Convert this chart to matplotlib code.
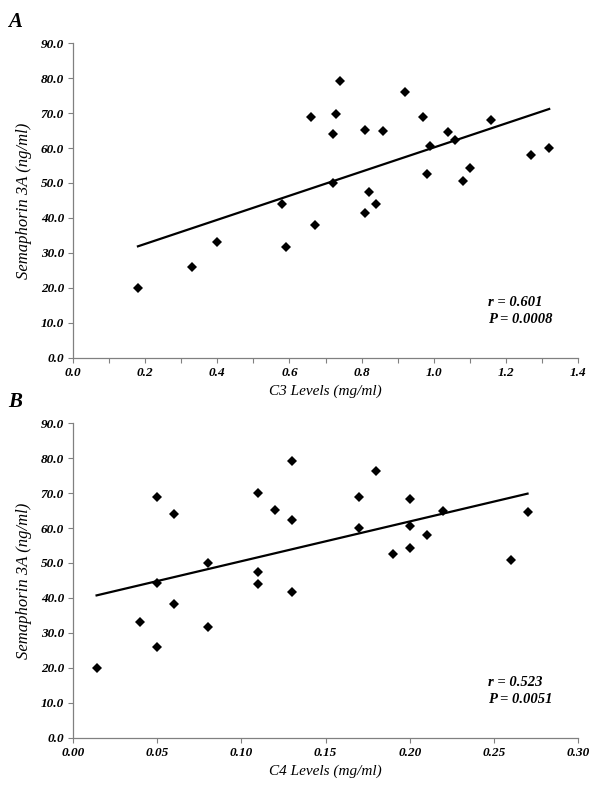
import numpy as np
import matplotlib
matplotlib.use('Agg')
import matplotlib.pyplot as plt
from matplotlib.ticker import MultipleLocator, FormatStrFormatter

# values
c3 = [0.18, 0.33, 0.40, 0.58, 0.59, 0.66, 0.67, 0.72, 0.73, 0.72, 0.74, 0.81, 0.86, 0.92,
      0.97, 0.99, 1.04, 1.06, 1.16, 0.82, 0.84, 0.81, 0.98, 1.08, 1.10, 1.27, 1.32]
sema_a = [20.0, 25.9, 33.0, 44.1, 31.6, 68.8, 38.1, 64.0, 69.8, 50.1, 79.3, 65.2, 64.9, 76.2,
          68.8, 60.7, 64.6, 62.4, 68.1, 47.3, 43.9, 41.5, 52.5, 50.6, 54.4, 57.9, 60.0]

c4 = [0.014, 0.040, 0.050, 0.050, 0.050, 0.060, 0.060, 0.080, 0.080, 0.110, 0.110, 0.110,
      0.120, 0.130, 0.130, 0.130, 0.180, 0.170, 0.170, 0.200, 0.200, 0.200, 0.190, 0.210,
      0.220, 0.270, 0.260]
sema_b = [19.9, 33.1, 26.0, 44.2, 68.9, 64.1, 38.2, 50.0, 31.7, 70.0, 47.4, 43.9, 65.2, 79.3,
          62.3, 41.6, 76.2, 68.9, 60.1, 68.2, 60.7, 54.4, 52.6, 58.0, 64.9, 64.6, 50.7]

stats_a = ["r = 0.601", "P = 0.0008"]
stats_b = ["r = 0.523", "P = 0.0051"]

plt.rcParams['font.family'] = ['Liberation Serif', 'DejaVu Serif']
grey = '#808080'

fig = plt.figure(figsize=(6, 7.88), dpi=100)
axA = fig.add_axes([0.1217, 0.5463, 0.8417, 0.3987])
axB = fig.add_axes([0.1217, 0.0640, 0.8417, 0.3989])


def panel(ax, x, y, xmax, xstep, xminor, xfmt, xlabel, stats, tx):
    x = np.array(x)
    y = np.array(y)
    ax.plot(x, y, 'D', color='black', ms=4.8, mew=0)
    k, b = np.polyfit(x, y, 1)
    xx = np.array([x.min(), x.max()])
    ax.plot(xx, k * xx + b, color='black', lw=1.6)
    ax.set_xlim(0, xmax)
    ax.set_ylim(0, 90)
    ax.xaxis.set_major_locator(MultipleLocator(xstep))
    if xminor:
        ax.xaxis.set_minor_locator(MultipleLocator(xminor))
    ax.yaxis.set_major_locator(MultipleLocator(10))
    ax.xaxis.set_major_formatter(FormatStrFormatter(xfmt))
    ax.yaxis.set_major_formatter(FormatStrFormatter('%.1f'))
    for s in ['top', 'right']:
        ax.spines[s].set_visible(False)
    for s in ['left', 'bottom']:
        ax.spines[s].set_color(grey)
        ax.spines[s].set_linewidth(0.9)
    ax.tick_params(which='both', direction='out', length=3.5, width=0.8, color=grey,
                   labelsize=9.5, pad=3)
    for lab in ax.get_xticklabels() + ax.get_yticklabels():
        lab.set_fontweight('bold')
        lab.set_fontstyle('italic')
    ax.set_xlabel(xlabel, fontsize=11, style='italic', labelpad=4)
    ax.set_ylabel('Semaphorin 3A (ng/ml)', fontsize=12, style='italic', labelpad=6)
    ax.text(tx, 15.7, stats[0], fontsize=10.5, weight='bold', style='italic', va='center')
    ax.text(tx, 10.9, stats[1], fontsize=10.5, weight='bold', style='italic', va='center')


panel(axA, c3, sema_a, 1.4, 0.2, 0.1, '%.1f', 'C3 Levels (mg/ml)', stats_a, 1.15)
panel(axB, c4, sema_b, 0.30, 0.05, None, '%.2f', 'C4 Levels (mg/ml)', stats_b, 0.2464)

fig.text(15 / 600, 1 - 22 / 788, 'A', fontsize=15, weight='bold', style='italic',
         ha='center', va='center')
fig.text(15 / 600, 1 - 402 / 788, 'B', fontsize=15, weight='bold', style='italic',
         ha='center', va='center')

fig.savefig('out.png', dpi=100)
